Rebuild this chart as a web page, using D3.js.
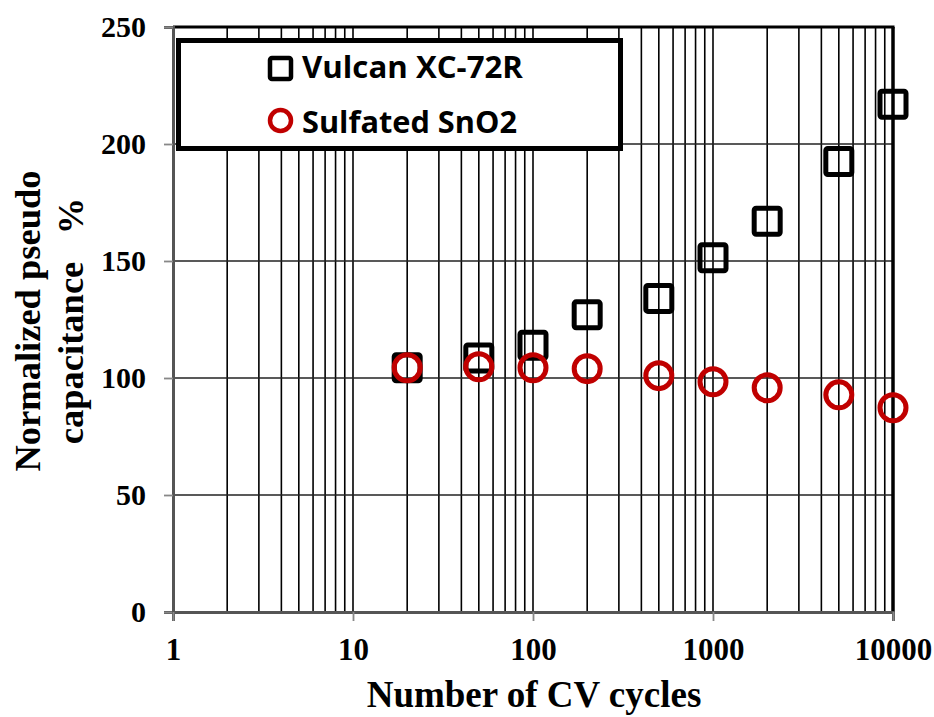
<!DOCTYPE html>
<html><head><meta charset="utf-8">
<script src="https://cdn.jsdelivr.net/npm/d3@7"></script>
<style>body{margin:0;background:#fff}svg{display:block}</style>
</head><body>
<script>
const cycles = [20, 50, 100, 200, 500, 1000, 2000, 5000, 10000];
const vulcan = [104.4, 108.6, 114, 127, 134, 151.4, 167, 192.5, 217];
const sno2 = [104.4, 104.8, 104.4, 104, 101, 98.4, 95.8, 92.8, 87.3];
const seriesNames = ["Vulcan XC-72R", "Sulfated SnO2"];
const xTicks = [1, 10, 100, 1000, 10000];
const yTicks = [0, 50, 100, 150, 200, 250];
const xTitle = "Number of CV cycles";
const yTitle = ["Normalized pseudo", "capacitance   %"];

const W = 934, H = 717;
const L = 173, R = 893, T = 27, B = 612;
const svg = d3.select("body").append("svg").attr("width", W).attr("height", H);
const x = d3.scaleLog().domain([1, 10000]).range([L, R]);
const y = d3.scaleLinear().domain([0, 250]).range([B, T]);
const serif = "'Liberation Serif','Times New Roman',serif";

// minor+major vertical grid
const vgrid = [];
for (let d = 1; d < 10000; d *= 10) for (let k = 1; k < 10; k++) vgrid.push(d * k);
svg.append("g").selectAll("line").data(vgrid.filter(v => v > 1 && v < 10000)).join("line")
  .attr("x1", d => x(d)).attr("x2", d => x(d)).attr("y1", T).attr("y2", B)
  .attr("stroke", "#000").attr("stroke-width", 1.6);
svg.append("g").selectAll("line").data(yTicks.filter(v => v > 0 && v < 250)).join("line")
  .attr("x1", L).attr("x2", R).attr("y1", d => y(d)).attr("y2", d => y(d))
  .attr("stroke", "#222").attr("stroke-width", 1.3);

// frame
svg.append("line").attr("x1", L).attr("x2", R + 1.5).attr("y1", T).attr("y2", T).attr("stroke", "#000").attr("stroke-width", 3);
svg.append("line").attr("x1", R).attr("x2", R).attr("y1", T).attr("y2", B).attr("stroke", "#000").attr("stroke-width", 3.5);

// axes
const yAxis = svg.append("g").attr("transform", `translate(${L},0)`)
  .call(d3.axisLeft(y).tickValues(yTicks).tickSize(9).tickPadding(18));
const xAxis = svg.append("g").attr("transform", `translate(0,${B})`)
  .call(d3.axisBottom(x).tickValues(xTicks).tickFormat(d3.format("d")).tickSize(9).tickPadding(17));
[yAxis, xAxis].forEach(g => {
  g.select(".domain").attr("stroke", "#555").attr("stroke-width", 3);
  g.selectAll(".tick line").attr("stroke", "#888").attr("stroke-width", 1.8);
  g.selectAll("text").attr("fill", "#000").attr("font-family", serif).attr("font-weight", "bold");
});
yAxis.selectAll("text").attr("font-size", 30).attr("dy", "0.33em");
xAxis.selectAll("text").attr("font-size", 31).attr("dy", "0.71em");

// markers
svg.append("g").selectAll("rect").data(cycles.map((c, i) => [c, vulcan[i]])).join("rect")
  .attr("x", d => x(d[0]) - 13).attr("y", d => y(d[1]) - 13).attr("width", 26).attr("height", 26)
  .attr("rx", 2).attr("fill", "none").attr("stroke", "#000").attr("stroke-width", 5);
svg.append("g").selectAll("circle").data(cycles.map((c, i) => [c, sno2[i]])).join("circle")
  .attr("cx", d => x(d[0])).attr("cy", d => y(d[1])).attr("r", 13)
  .attr("fill", "none").attr("stroke", "#C00000").attr("stroke-width", 5);

// legend
const lg = svg.append("g");
lg.append("rect").attr("x", 178.5).attr("y", 40.5).attr("width", 442).attr("height", 108)
  .attr("fill", "#fff").attr("stroke", "#000").attr("stroke-width", 5);
lg.append("rect").attr("x", 270).attr("y", 58).attr("width", 21).attr("height", 21).attr("rx", 2)
  .attr("fill", "none").attr("stroke", "#000").attr("stroke-width", 4.5);
lg.append("circle").attr("cx", 280.5).attr("cy", 120.5).attr("r", 10.5)
  .attr("fill", "none").attr("stroke", "#C00000").attr("stroke-width", 4.5);
const sans = "'Open Sans','Liberation Sans',sans-serif";
lg.append("text").attr("x", 302).attr("y", 78).text(seriesNames[0])
  .attr("font-family", sans).attr("font-weight", "bold").attr("font-size", 31)
  .attr("textLength", 221).attr("lengthAdjust", "spacingAndGlyphs");
lg.append("text").attr("x", 302).attr("y", 133).text(seriesNames[1])
  .attr("font-family", sans).attr("font-weight", "bold").attr("font-size", 31)
  .attr("textLength", 215).attr("lengthAdjust", "spacingAndGlyphs");

// titles
svg.append("text").attr("x", 534).attr("y", 707).attr("text-anchor", "middle")
  .attr("font-family", serif).attr("font-weight", "bold").attr("font-size", 37).text(xTitle);
const yt = svg.append("text").attr("transform", "translate(0,321) rotate(-90)")
  .attr("text-anchor", "middle").attr("font-family", serif).attr("font-weight", "bold").attr("font-size", 36.5);
yt.append("tspan").attr("x", 0).attr("y", 40).text(yTitle[0].replace(/ /g, "\u00a0"));
yt.append("tspan").attr("x", 0).attr("y", 83).text(yTitle[1].replace(/ /g, "\u00a0"));
</script>
</body></html>
